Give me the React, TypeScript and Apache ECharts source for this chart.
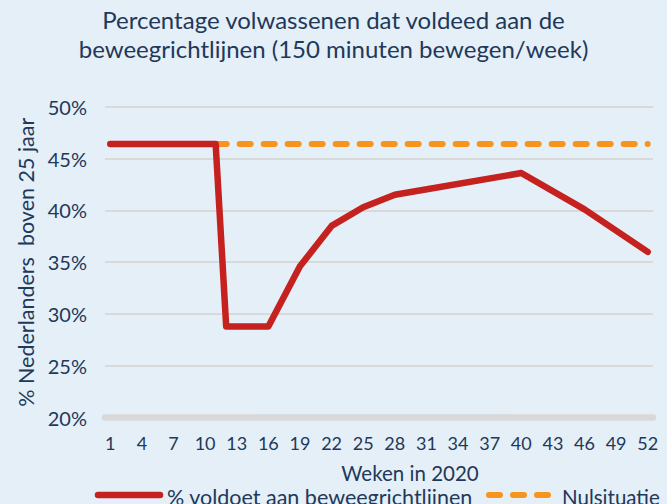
import React, { useEffect, useRef } from "react";
import * as echarts from "echarts";

const weeks: string[] = Array.from({ length: 52 }, (_, i) => String(i + 1));

// Measured points (week -> %); weeks without a measurement are null and get connected
const measuredWeeks = [1, 11, 12, 16, 19, 22, 25, 28, 40, 46, 52];
const measuredValues = [46.4, 46.4, 28.8, 28.8, 34.6, 38.5, 40.3, 41.5, 43.6, 40.1, 36.0];

const baselineStartWeek = 11;
const baselineValue = 46.4;

const yTicks = { min: 20, max: 50, interval: 5 };

const titleLines = [
  "Percentage volwassenen dat voldeed aan de",
  "beweegrichtlijnen (150 minuten bewegen/week)",
];
const yAxisName = "% Nederlanders  boven 25 jaar";
const xAxisName = "Weken in 2020";
const seriesNames = ["% voldoet aan beweegrichtlijnen", "Nulsituatie"];

const NAVY = "#22385a";
const RED = "#c5221f";
const ORANGE = "#f7941d";
const GRID = "#d9d9d9";
const BG = "#e4eff7";
const FONT = "Lato";

export default function App() {
  const ref = useRef<HTMLDivElement>(null);
  useEffect(() => {
    if (!ref.current) return;
    const chart = echarts.init(ref.current, undefined, { renderer: "svg" });

    const mainData = weeks.map((w) => {
      const idx = measuredWeeks.indexOf(Number(w));
      return idx >= 0 ? measuredValues[idx] : null;
    });
    const baseData = weeks.map((w) => (Number(w) >= baselineStartWeek ? baselineValue : null));

    chart.setOption({
      animation: false,
      backgroundColor: BG,
      textStyle: { fontFamily: FONT, color: NAVY },
      grid: { left: 105, right: 14, top: 106.7, bottom: 86.3, containLabel: false },
      xAxis: {
        type: "category",
        data: weeks,
        boundaryGap: true,
        axisTick: { show: false },
        axisLine: { show: true, lineStyle: { color: GRID, width: 6.5 } },
        axisLabel: {
          interval: 2,
          margin: 16,
          fontSize: 18,
          color: NAVY,
          fontFamily: FONT,
        },
        splitLine: { show: false },
      },
      yAxis: {
        type: "value",
        min: yTicks.min,
        max: yTicks.max,
        interval: yTicks.interval,
        name: yAxisName,
        nameLocation: "middle",
        nameRotate: 90,
        nameGap: 67,
        nameTextStyle: { fontSize: 21.5, color: NAVY, fontFamily: FONT },
        axisLine: { show: false },
        axisTick: { show: false },
        axisLabel: {
          formatter: (v: number) => `${v}%`,
          fontSize: 20,
          color: NAVY,
          fontFamily: FONT,
          margin: 18,
        },
        splitLine: { show: true, lineStyle: { color: GRID, width: 2 } },
      },
      series: [
        {
          name: seriesNames[1],
          type: "line",
          data: baseData,
          showSymbol: false,
          symbol: "none",
          connectNulls: false,
          lineStyle: { color: ORANGE, width: 6, type: [11, 13], cap: "round" },
          z: 2,
        },
        {
          name: seriesNames[0],
          type: "line",
          data: mainData,
          showSymbol: false,
          symbol: "none",
          connectNulls: true,
          lineStyle: { color: RED, width: 6.5, cap: "round", join: "round" },
          z: 3,
        },
      ],
      graphic: [
        {
          type: "text",
          x: 333.5,
          y: 19,
          style: {
            text: titleLines[0],
            fontSize: 24,
            fill: NAVY,
            fontFamily: FONT,
            align: "center",
            verticalAlign: "middle",
          },
        },
        {
          type: "text",
          x: 333.5,
          y: 48,
          style: {
            text: titleLines[1],
            fontSize: 24,
            fill: NAVY,
            fontFamily: FONT,
            align: "center",
            verticalAlign: "middle",
          },
        },
        {
          type: "text",
          x: 410,
          y: 472.5,
          style: {
            text: xAxisName,
            fontSize: 20.5,
            fill: NAVY,
            fontFamily: FONT,
            align: "center",
            verticalAlign: "middle",
          },
        },
        {
          type: "line",
          shape: { x1: 98, y1: 495, x2: 160, y2: 495 },
          style: { stroke: RED, lineWidth: 6.5, lineCap: "round" },
        },
        {
          type: "text",
          x: 167,
          y: 497,
          style: {
            text: seriesNames[0],
            fontSize: 21.5,
            fill: NAVY,
            fontFamily: FONT,
            verticalAlign: "middle",
          },
        },
        {
          type: "line",
          shape: { x1: 489, y1: 495, x2: 548, y2: 495 },
          style: { stroke: ORANGE, lineWidth: 6, lineCap: "round", lineDash: [11, 13] },
        },
        {
          type: "text",
          x: 562,
          y: 497,
          style: {
            text: seriesNames[1],
            fontSize: 20.5,
            fill: NAVY,
            fontFamily: FONT,
            verticalAlign: "middle",
          },
        },
      ],
    });
    return () => chart.dispose();
  }, []);
  return (
    <div
      ref={ref}
      style={{ position: "fixed", left: 0, top: 0, width: 667, height: 504 }}
    />
  );
}
